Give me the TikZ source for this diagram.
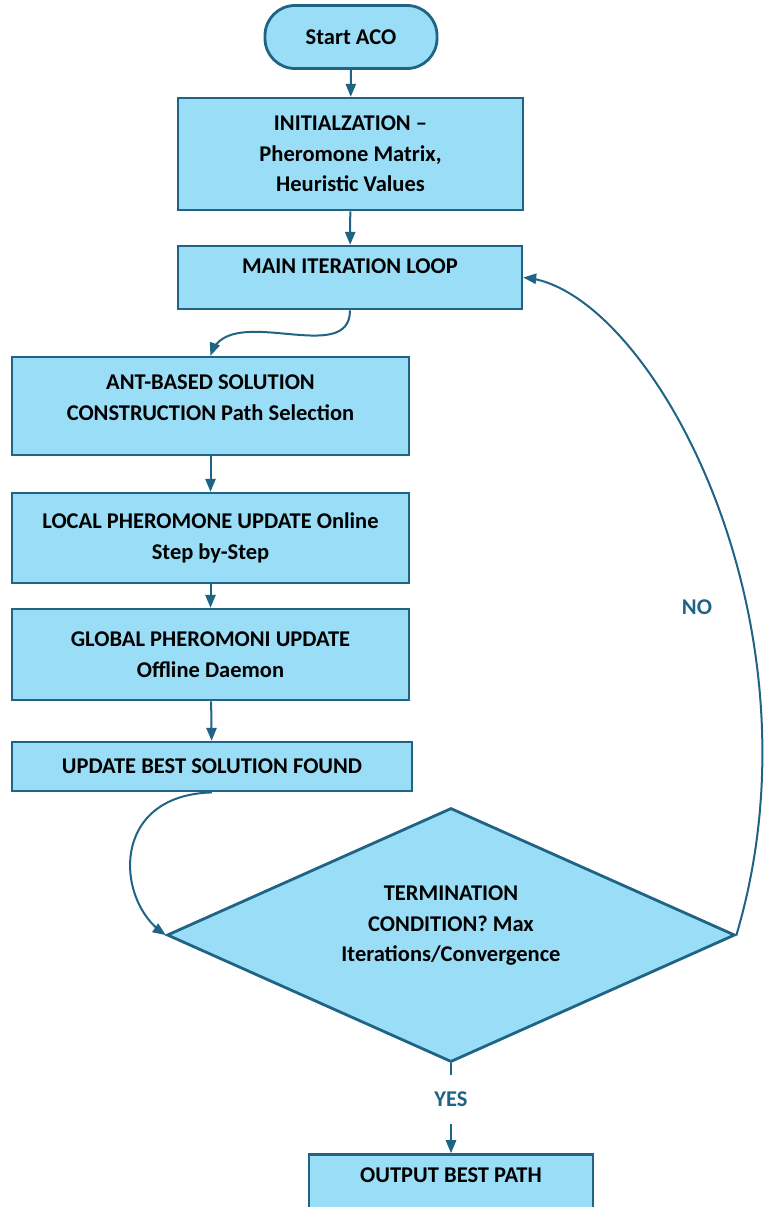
\documentclass[tikz,border=0pt]{standalone}
\usepackage{fontspec}
\setmainfont{Carlito}
\usetikzlibrary{shapes.geometric,arrows}
\definecolor{boxfill}{RGB}{153,221,246}
\definecolor{boxline}{RGB}{31,99,133}

\begin{document}
\begin{tikzpicture}[x=1pt,y=-1pt,
  font=\fontsize{22.5}{30.5}\selectfont\bfseries,
  blk/.style={draw=boxline,fill=boxfill,line width=2.8pt,align=center,inner sep=0pt},
  flow/.style={draw=boxline,line width=2pt,-triangle 45},
  lbl/.style={text=boxline}]
\useasboundingbox (0,0) rectangle (768,1207);
\node[blk,rounded corners=30pt,minimum width=172pt,minimum height=63pt] (start) at (351,37) {Start ACO};
\node[blk,minimum width=345pt,minimum height=112pt] (init) at (350.5,154) {INITIALZATION --\\Pheromone Matrix,\\Heuristic Values};
\node[blk,minimum width=344pt,minimum height=63pt] (main) at (350,277.5) {MAIN ITERATION LOOP\\[-8pt]};
\node[blk,minimum width=397pt,minimum height=98pt] (ant) at (210.5,406) {ANT-BASED SOLUTION\\CONSTRUCTION Path Selection\\[-14pt]};
\node[blk,minimum width=397pt,minimum height=90pt] (local) at (210.5,538) {LOCAL PHEROMONE UPDATE Online\\Step by-Step};
\node[blk,minimum width=397pt,minimum height=91pt] (global) at (210.5,654.5) {GLOBAL PHEROMONI UPDATE\\Offline Daemon};
\node[blk,minimum width=400pt,minimum height=49pt] (best) at (212,766.5) {UPDATE BEST SOLUTION FOUND};
\node[blk,diamond,aspect=2.2,minimum width=568pt,minimum height=254pt] (term) at (451,935) {TERMINATION\\CONDITION? Max\\Iterations/Convergence\\[-8pt]};
\node[blk,minimum width=284pt,minimum height=70pt,anchor=north] (out) at (451,1153) {OUTPUT BEST PATH\\[-2pt]};
\node[lbl] (no) at (697,607) {NO};

\path[flow]
(start) -- (init);
\path[flow] (init) -- (main);
\path[flow] (main.south) to[out=-90,in=70] (ant.north);
\path[flow] (ant) -- (local);
\path[flow] (local) -- (global);
\path[flow] (global) -- (best);
\path[flow] (best.south) .. controls (110,795) and (115,900) .. (term.west);
\path[flow] (term.east) .. controls (830,620) and (650,290) .. (main.east);
\path[flow] (term.south) -- node[lbl,pos=0.4,fill=white,inner ysep=17pt] (yes) {YES} (out.north);
\end{tikzpicture}
\end{document}
